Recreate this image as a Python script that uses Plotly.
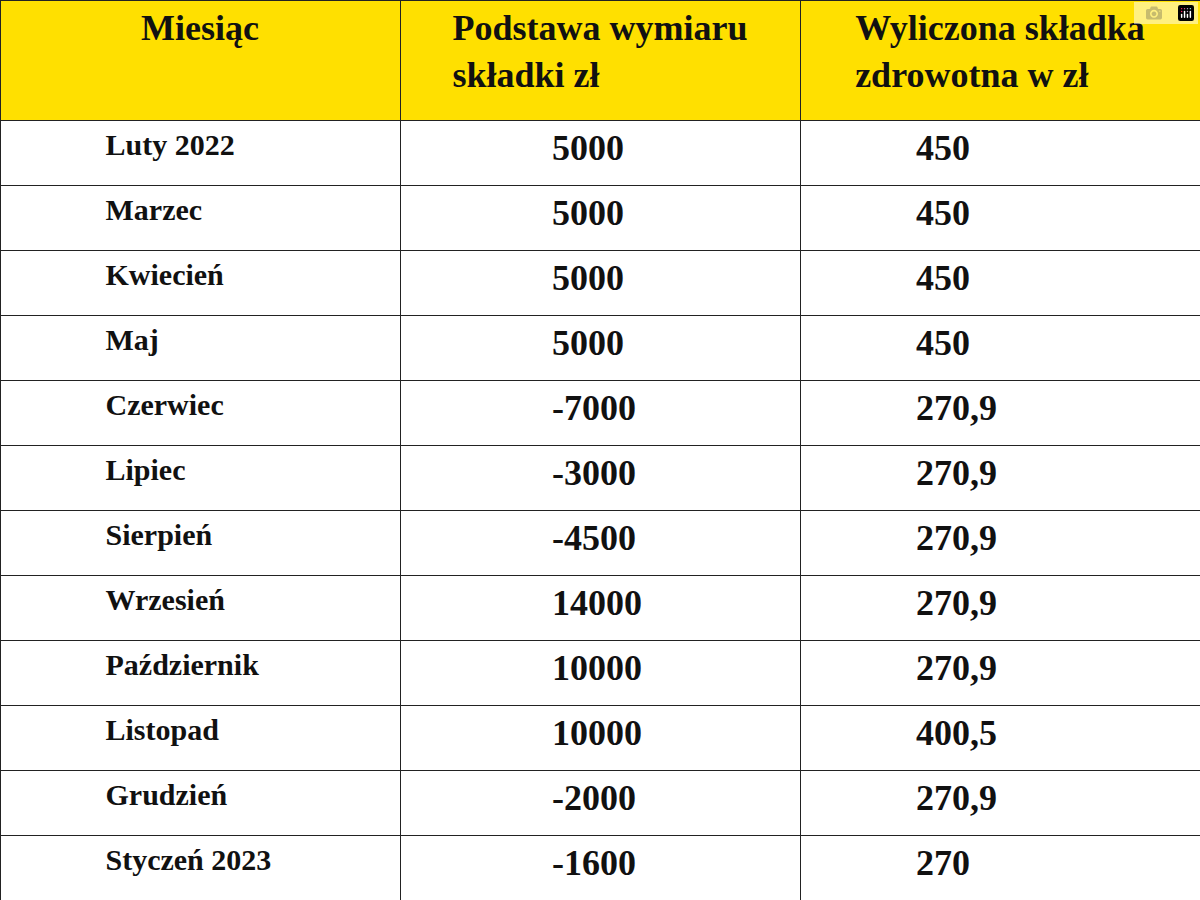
import plotly.graph_objects as go

headers = ["<b>Miesiąc</b>", "<b>Podstawa wymiaru<br>składki zł</b>", "<b>Wyliczona składka<br>zdrowotna w zł</b>"]
months = ["Luty 2022", "Marzec", "Kwiecień", "Maj", "Czerwiec", "Lipiec", "Sierpień",
          "Wrzesień", "Październik", "Listopad", "Grudzień", "Styczeń 2023"]
base = ["5000", "5000", "5000", "5000", "-7000", "-3000", "-4500",
        "14000", "10000", "10000", "-2000", "-1600"]
contrib = ["450", "450", "450", "450", "270,9", "270,9", "270,9",
           "270,9", "270,9", "400,5", "270,9", "270"]

col1 = ["\u00a0" * 13 + "<b>" + m + "</b>" for m in months]
col2 = ["\u00a0" * 16 + "<b>" + b + "</b>" for b in base]
col3 = ["\u00a0" * 12 + "<b>" + c + "</b>" for c in contrib]

fig = go.Figure(go.Table(
    columnwidth=[1, 1, 1],
    domain=dict(x=[0, 1], y=[0, 1]),
    header=dict(values=headers, fill_color="#FFE000", height=120,
                align="center", line=dict(color="#222222", width=1),
                font=dict(family="Liberation Serif", size=36, color="#111111")),
    cells=dict(values=[col1, col2, col3], fill_color="white", height=65,
               align="left", line=dict(color="#222222", width=1),
               font=dict(family="Liberation Serif", size=[30, 36, 36], color="#111111")),
))
fig.update_layout(width=1200, height=900, margin=dict(l=0, r=0, t=0, b=0),
                  paper_bgcolor="white")
fig.write_html("out.html", post_script="document.body.style.margin='0';")
